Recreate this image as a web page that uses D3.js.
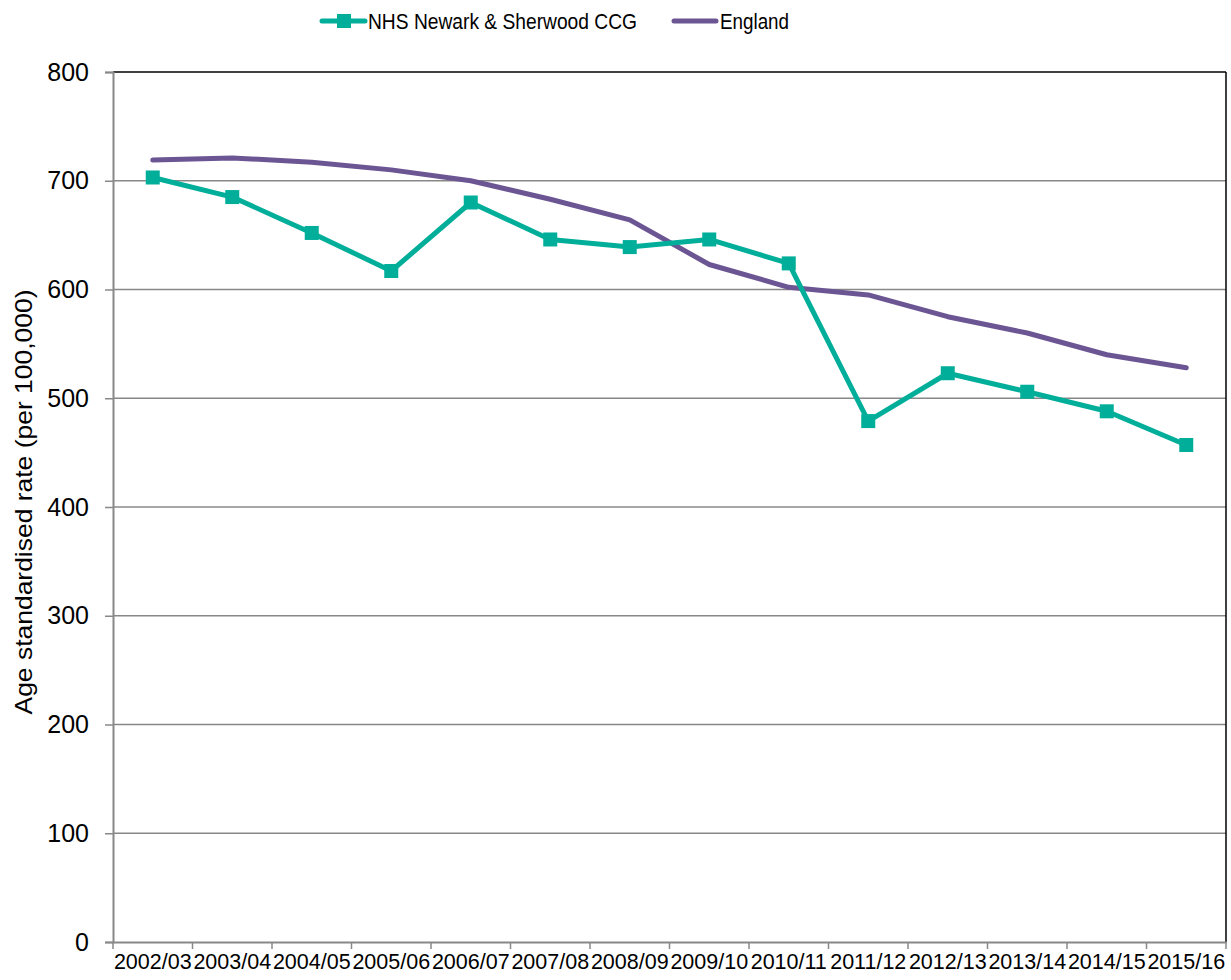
<!DOCTYPE html>
<html><head><meta charset="utf-8">
<script src="https://cdn.jsdelivr.net/npm/d3@7"></script>
<style>body{margin:0;background:#fff}svg{font-family:"Liberation Sans",Arial,sans-serif}</style>
</head><body><svg id="c" width="1231" height="980"></svg>
<script>
const categories = ["2002/03","2003/04","2004/05","2005/06","2006/07","2007/08","2008/09","2009/10","2010/11","2011/12","2012/13","2013/14","2014/15","2015/16"];
const nhsValues = [703,685,652,617,680,646,639,646,624,479,523,506,488,457];
const englandValues = [719,721,717,710,700,683,664,623,602,595,575,560,540,528];
const yTicks = [0,100,200,300,400,500,600,700,800];
const seriesNames = ["NHS Newark & Sherwood CCG","England"];
const colors = {nhs:"#00AE9A", eng:"#6C5593"};

const svg = d3.select("#c");
const L=113, R=1226, T=72, B=942;
const x = d3.scaleBand().domain(categories).range([L,R]);
const y = d3.scaleLinear().domain([0,800]).range([B,T]);

// gridlines
svg.append("g").selectAll("line").data(yTicks.filter(d=>d>0&&d<800)).join("line")
  .attr("x1",L).attr("x2",R).attr("y1",d=>y(d)).attr("y2",d=>y(d))
  .attr("stroke","#888").attr("stroke-width",1.5);
// plot border top/right
svg.append("line").attr("x1",L).attr("x2",R).attr("y1",T).attr("y2",T).attr("stroke","#000").attr("stroke-width",1.5);
svg.append("line").attr("x1",R).attr("x2",R).attr("y1",T).attr("y2",B).attr("stroke","#000").attr("stroke-width",1.5);

// y axis
const ya = svg.append("g").attr("transform",`translate(${L},0)`)
  .call(d3.axisLeft(y).tickValues(yTicks).tickSize(8).tickPadding(16).tickFormat(d3.format("d")));
ya.select(".domain").attr("stroke","#888").attr("stroke-width",2);
ya.selectAll(".tick line").attr("stroke","#888").attr("stroke-width",1.5);
ya.selectAll("text").attr("font-size",25).attr("fill","#000").attr("font-family","Liberation Sans, Arial, sans-serif");

// x axis
const xa = svg.append("g").attr("transform",`translate(0,${B})`)
  .call(d3.axisBottom(x).tickSize(0).tickPadding(12));
xa.select(".domain").attr("stroke","#888").attr("stroke-width",2);
xa.selectAll("text").attr("font-size",21.5).attr("fill","#000").attr("font-family","Liberation Sans, Arial, sans-serif");
// boundary ticks
const bounds = categories.map(c=>x(c)).concat([R]);
svg.append("g").selectAll("line").data(bounds).join("line")
  .attr("x1",d=>d).attr("x2",d=>d).attr("y1",B).attr("y2",B+7)
  .attr("stroke","#888").attr("stroke-width",1.5);

const cx = c=>x(c)+x.bandwidth()/2;
const line = d3.line().x(d=>cx(d.c)).y(d=>y(d.v));
const nhs = categories.map((c,i)=>({c,v:nhsValues[i]}));
const eng = categories.map((c,i)=>({c,v:englandValues[i]}));

svg.append("path").datum(eng).attr("d",line).attr("fill","none")
  .attr("stroke",colors.eng).attr("stroke-width",5).attr("stroke-linecap","round").attr("stroke-linejoin","round");
svg.append("path").datum(nhs).attr("d",line).attr("fill","none")
  .attr("stroke",colors.nhs).attr("stroke-width",5).attr("stroke-linejoin","round");
svg.append("g").selectAll("rect").data(nhs).join("rect")
  .attr("x",d=>cx(d.c)-7).attr("y",d=>y(d.v)-7).attr("width",14).attr("height",14)
  .attr("fill",colors.nhs);

// y title
svg.append("text").attr("transform","translate(32,502) rotate(-90)").attr("text-anchor","middle")
  .attr("font-size",24).attr("fill","#000").attr("textLength",425).attr("lengthAdjust","spacingAndGlyphs")
  .text("Age standardised rate (per 100,000)");

// legend
const lg = svg.append("g");
lg.append("line").attr("x1",322).attr("x2",365).attr("y1",21).attr("y2",21).attr("stroke",colors.nhs).attr("stroke-width",5).attr("stroke-linecap","round");
lg.append("rect").attr("x",337).attr("y",14).attr("width",14).attr("height",14).attr("fill",colors.nhs);
lg.append("text").attr("x",368).attr("y",29).attr("font-size",22.5).attr("textLength",269).attr("lengthAdjust","spacingAndGlyphs").text(seriesNames[0]);
lg.append("line").attr("x1",674).attr("x2",716).attr("y1",21).attr("y2",21).attr("stroke",colors.eng).attr("stroke-width",5).attr("stroke-linecap","round");
lg.append("text").attr("x",720).attr("y",29).attr("font-size",22.5).attr("textLength",69).attr("lengthAdjust","spacingAndGlyphs").text(seriesNames[1]);
</script></body></html>
